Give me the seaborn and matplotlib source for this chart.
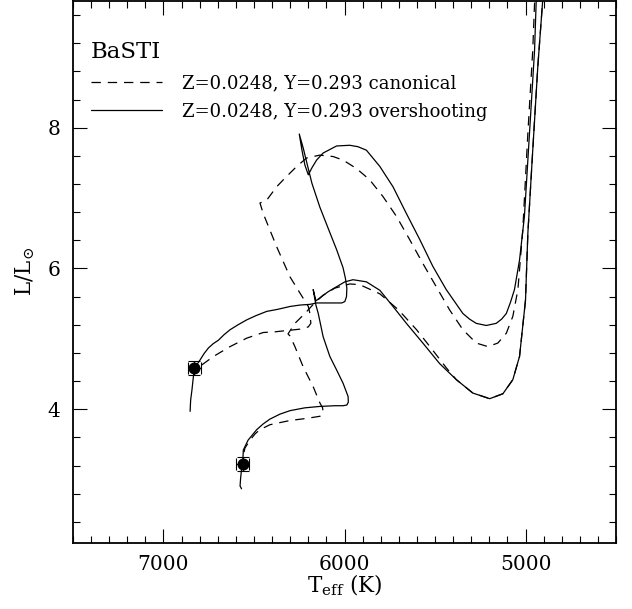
import matplotlib
matplotlib.use("Agg")
import matplotlib.pyplot as plt
from matplotlib.ticker import MultipleLocator
import pandas as pd
import seaborn as sns

# Overshooting track, more massive component (Teff [K], L/Lsun)
teff_ov_hi = [6853, 6850, 6843, 6835, 6829, 6814, 6798, 6776, 6752, 6726, 6697,
              6665, 6632, 6588, 6540, 6489, 6430, 6368, 6301, 6246, 6191, 6154,
              6035, 6015, 5998, 5989, 5987, 5995, 6008, 6044, 6081, 6136, 6180,
              6209, 6228, 6250, 6235, 6219, 6200, 6180, 6154, 6118, 6044, 5971,
              5926, 5879, 5805, 5732, 5658, 5584, 5512, 5438, 5346, 5309, 5272,
              5217, 5162, 5132, 5106, 5083, 5061, 5033, 5006, 4978, 4950, 4937]
lum_ov_hi = [3.97, 4.13, 4.27, 4.46, 4.59, 4.64, 4.70, 4.79, 4.87, 4.93, 4.98,
             5.06, 5.13, 5.20, 5.27, 5.33, 5.39, 5.42, 5.46, 5.48, 5.49, 5.51,
             5.51, 5.51, 5.53, 5.60, 5.72, 5.86, 6.01, 6.27, 6.51, 6.87, 7.21,
             7.51, 7.71, 7.91, 7.68, 7.47, 7.33, 7.43, 7.54, 7.64, 7.74, 7.75,
             7.73, 7.68, 7.45, 7.16, 6.78, 6.41, 6.03, 5.70, 5.36, 5.28, 5.22,
             5.19, 5.22, 5.28, 5.36, 5.52, 5.70, 6.12, 6.74, 7.92, 9.10, 10.10]

# Canonical track, more massive component
teff_can_hi = [6788, 6724, 6632, 6540, 6449, 6384, 6311, 6237, 6200, 6186, 6191,
               6200, 6246, 6301, 6375, 6449, 6467, 6430, 6375, 6338, 6264, 6209,
               6136, 6063, 6008, 5934, 5861, 5787, 5713, 5640, 5567, 5493, 5419,
               5346, 5272, 5208, 5153, 5106, 5070, 5042, 5015, 4987, 4960, 4945]
lum_can_hi = [4.63, 4.75, 4.89, 5.01, 5.09, 5.10, 5.12, 5.14, 5.17, 5.22, 5.36,
              5.46, 5.65, 5.88, 6.31, 6.78, 6.93, 6.97, 7.16, 7.26, 7.45, 7.57,
              7.61, 7.59, 7.54, 7.42, 7.26, 7.02, 6.74, 6.41, 6.07, 5.74, 5.41,
              5.13, 4.94, 4.89, 4.94, 5.08, 5.32, 5.70, 6.55, 7.92, 9.10, 10.10]

# Overshooting track, less massive component
teff_ov_lo = [6569, 6577, 6574, 6569, 6562, 6559, 6533, 6485, 6450, 6412, 6357,
              6301, 6219, 6136, 6054, 6008, 5987, 5979, 5980, 6008, 6044, 6081,
              6118, 6145, 6158, 6173, 6158, 6127, 6090, 5998, 5953, 5879, 5805,
              5732, 5658, 5567, 5475, 5382, 5291, 5198, 5125, 5070, 5033, 5000,
              4987, 4960, 4932, 4905, 4895]
lum_ov_lo = [2.87, 2.91, 3.02, 3.14, 3.25, 3.42, 3.56, 3.71, 3.79, 3.86, 3.93,
             3.98, 4.02, 4.04, 4.05, 4.05, 4.06, 4.10, 4.18, 4.37, 4.56, 4.75,
             5.03, 5.36, 5.48, 5.70, 5.54, 5.60, 5.67, 5.81, 5.84, 5.81, 5.69,
             5.46, 5.22, 4.94, 4.65, 4.42, 4.23, 4.15, 4.22, 4.42, 4.75, 5.55,
             6.50, 7.68, 8.87, 9.81, 10.10]

# Canonical track, less massive component
teff_can_lo = [6555, 6550, 6522, 6494, 6467, 6412, 6357, 6301, 6209, 6136, 6118,
               6121, 6136, 6173, 6228, 6274, 6301, 6312, 6274, 6219, 6169, 6118,
               6054, 5971, 5916, 5805, 5701, 5602, 5513, 5438, 5382, 5291, 5198,
               5125, 5070, 5033, 5000, 4987, 4960, 4932, 4905, 4895]
lum_can_lo = [3.39, 3.45, 3.56, 3.65, 3.71, 3.78, 3.81, 3.84, 3.87, 3.90, 3.94,
              4.02, 4.09, 4.32, 4.60, 4.89, 5.04, 5.07, 5.22, 5.36, 5.50, 5.62,
              5.72, 5.78, 5.77, 5.64, 5.41, 5.13, 4.84, 4.59, 4.42, 4.23, 4.15,
              4.22, 4.42, 4.75, 5.55, 6.50, 7.68, 8.87, 9.81, 10.10]

# Observed binary components
star_teff = [6829, 6562]
star_lum = [4.58, 3.22]
star_teff_err = [35, 35]
star_lum_err = [0.10, 0.10]

legend_title = "BaSTI"
label_can = "Z=0.0248, Y=0.293 canonical"
label_ov = "Z=0.0248, Y=0.293 overshooting"

sns.set_theme(style="ticks")
plt.rcParams["font.family"] = ["DejaVu Serif"]
plt.rcParams["mathtext.fontset"] = "dejavuserif"
plt.rcParams["text.color"] = "black"
plt.rcParams["axes.labelcolor"] = "black"
plt.rcParams["xtick.color"] = "black"
plt.rcParams["ytick.color"] = "black"

fig = plt.figure(figsize=(6.32, 6.09), dpi=100)
ax = fig.add_axes([0.1155, 0.1084, 0.8592, 0.8900])

tracks = pd.concat([
    pd.DataFrame({"teff": teff_can_hi, "lum": lum_can_hi, "track": "can_hi"}),
    pd.DataFrame({"teff": teff_can_lo, "lum": lum_can_lo, "track": "can_lo"}),
    pd.DataFrame({"teff": teff_ov_hi, "lum": lum_ov_hi, "track": "ov_hi"}),
    pd.DataFrame({"teff": teff_ov_lo, "lum": lum_ov_lo, "track": "ov_lo"}),
], ignore_index=True)

dash = (0, (7.5, 5.5))
line_style = {"can_hi": dash, "can_lo": dash, "ov_hi": "-", "ov_lo": "-"}
line_label = {"can_hi": label_can, "can_lo": None, "ov_hi": label_ov, "ov_lo": None}

for name, grp in tracks.groupby("track", sort=False):
    sns.lineplot(data=grp, x="teff", y="lum", sort=False, estimator=None,
                 ax=ax, color="black", lw=0.9, linestyle=line_style[name],
                 label=line_label[name], legend=False,
                 solid_joinstyle="round", dash_joinstyle="round")

ax.errorbar(star_teff, star_lum, xerr=star_teff_err, yerr=star_lum_err,
            fmt="none", ecolor="black", elinewidth=0.8, capsize=4.5,
            capthick=0.8, zorder=3)
sns.scatterplot(x=star_teff, y=star_lum, ax=ax, color="black", s=75,
                edgecolor="black", linewidth=0, zorder=4, legend=False)

ax.set_xlim(7500, 4500)
ax.set_ylim(2.1, 9.8)

ax.xaxis.set_major_locator(MultipleLocator(1000))
ax.xaxis.set_minor_locator(MultipleLocator(100))
ax.yaxis.set_major_locator(MultipleLocator(2))
ax.yaxis.set_minor_locator(MultipleLocator(0.4))
ax.tick_params(which="both", direction="in", top=True, right=True,
               colors="black", width=0.8)
ax.tick_params(which="major", length=10, labelsize=14.5, pad=9)
ax.tick_params(which="minor", length=5)
for sp in ax.spines.values():
    sp.set_linewidth(1.3)
    sp.set_color("black")

ax.set_xlabel(r"$\mathrm{T_{eff}}$ (K)", fontsize=15.5, labelpad=-1, color="black")
ax.set_ylabel(r"$\mathrm{L/L_{\odot}}$", fontsize=15.5, labelpad=8, color="black")

handles, labels = ax.get_legend_handles_labels()
leg = ax.legend(handles, labels, title=legend_title, loc="upper left",
                bbox_to_anchor=(0.033, 0.926), frameon=False, fontsize=13,
                title_fontsize=16.5, handlelength=3.93, handletextpad=1.1,
                labelspacing=0.6, borderpad=0, borderaxespad=0,
                alignment="left", labelcolor="black")
leg.get_title().set_color("black")

fig.savefig("out.png", dpi=100)
